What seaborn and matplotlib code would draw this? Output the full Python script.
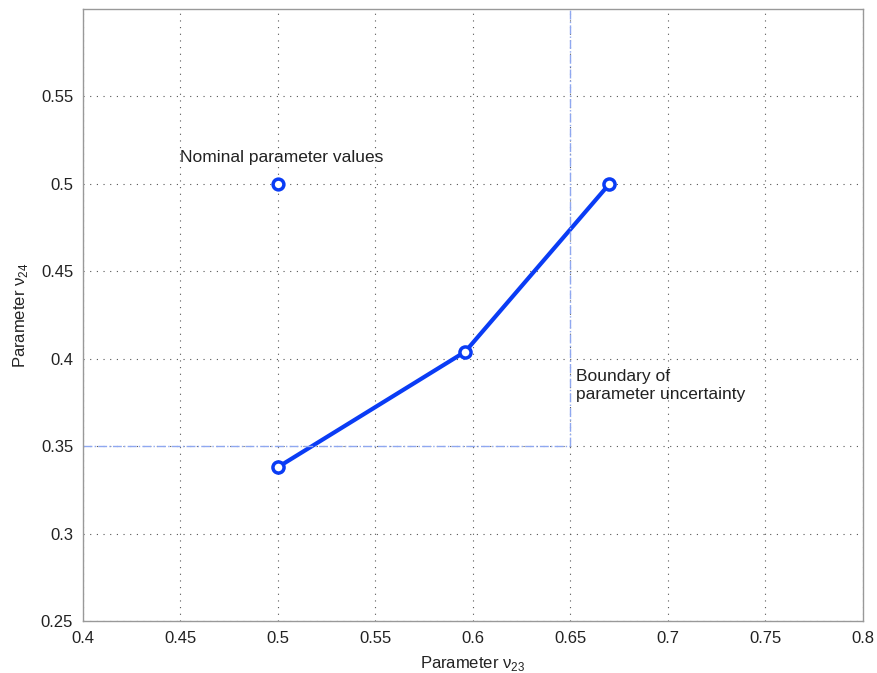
import pandas as pd
import matplotlib
matplotlib.use('Agg')
import matplotlib.pyplot as plt
import seaborn as sns

# path of worst-case parameter values
path_v23 = [0.5, 0.596, 0.67]
path_v24 = [0.338, 0.404, 0.5]

# nominal point
nominal_v23 = [0.5]
nominal_v24 = [0.5]

# uncertainty boundary (dash-dot)
bound_h_x = [0.4, 0.65]
bound_h_y = [0.35, 0.35]
bound_v_x = [0.65, 0.65]
bound_v_y = [0.35, 0.6]

x_ticks = [0.4, 0.45, 0.5, 0.55, 0.6, 0.65, 0.7, 0.75, 0.8]
y_ticks = [0.25, 0.3, 0.35, 0.4, 0.45, 0.5, 0.55]


def main():
    sns.set_style('white')
    plt.rcParams['font.family'] = ['Liberation Sans', 'DejaVu Sans']
    plt.rcParams['mathtext.fontset'] = 'custom'
    plt.rcParams['mathtext.rm'] = 'Liberation Sans'

    fig = plt.figure(figsize=(8.77, 6.73), dpi=100)
    ax = fig.add_axes([0.0946, 0.0773, 0.8894, 0.9093])

    path = pd.DataFrame({'v23': path_v23, 'v24': path_v24})
    sns.lineplot(data=path, x='v23', y='v24', sort=False, ax=ax,
                 color='#0a3cf5', linewidth=3, marker='o', markersize=8,
                 markerfacecolor='white', markeredgecolor='#0a3cf5',
                 markeredgewidth=2.5)
    sns.scatterplot(x=nominal_v23, y=nominal_v24, ax=ax, s=60,
                    facecolor='white', edgecolor='#0a3cf5', linewidth=2.5,
                    zorder=5)

    ax.plot(bound_h_x, bound_h_y, linestyle='-.', color='#8fa8f0', linewidth=1)
    ax.plot(bound_v_x, bound_v_y, linestyle='-.', color='#8fa8f0', linewidth=1)

    ax.text(0.45, 0.511, 'Nominal parameter values', fontsize=12.5,
            color='#222222', ha='left', va='bottom')
    ax.text(0.653, 0.394, 'Boundary of\nparameter uncertainty', fontsize=12.5,
            color='#222222', ha='left', va='top', linespacing=1.2)

    ax.set_xlim(0.4, 0.8)
    ax.set_ylim(0.25, 0.6)
    ax.set_xticks(x_ticks)
    ax.set_xticklabels([f'{t:g}' for t in x_ticks])
    ax.set_yticks(y_ticks)
    ax.set_yticklabels([f'{t:g}' for t in y_ticks])
    ax.grid(True, linestyle=(0, (1, 5)), color='#555555', linewidth=0.8)
    ax.tick_params(direction='in', length=5, color='#888888', pad=7,
                   labelsize=12, labelcolor='#222222')
    for s in ax.spines.values():
        s.set_color('#999999')
        s.set_linewidth(1)

    ax.set_xlabel('Parameter ν$_{23}$', fontsize=12, color='#222222', labelpad=6)
    ax.set_ylabel('Parameter ν$_{24}$', fontsize=12, color='#222222', labelpad=8)

    fig.savefig('out.png', dpi=100)


if __name__ == '__main__':
    main()
